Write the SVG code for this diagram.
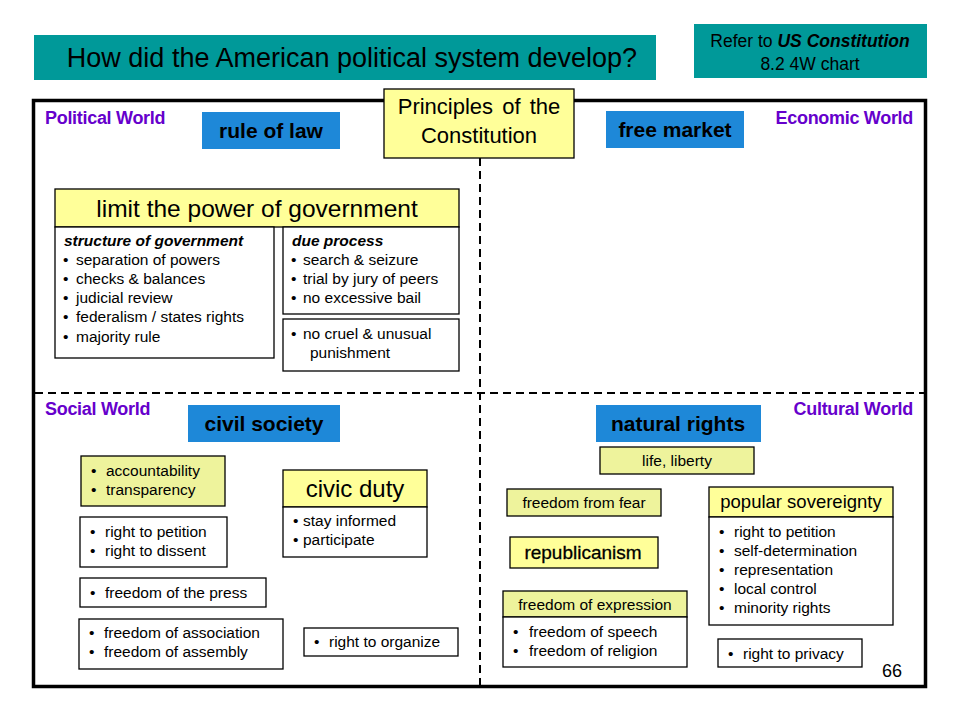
<svg xmlns="http://www.w3.org/2000/svg" width="960" height="720" viewBox="0 0 960 720">
<style>
text{font-family:"Liberation Sans",Arial,sans-serif;fill:#000}
.teal{fill:#009999}
.blue{fill:#1E88D8}
.yel{fill:#FFFF99;stroke:#000;stroke-width:1.3}
.lyel{fill:#EEF39C;stroke:#000;stroke-width:1.3}
.wbox{fill:#fff;stroke:#000;stroke-width:1.3}
.world{font-size:18px;font-weight:bold;fill:#6600CC;letter-spacing:-0.3px}
.key{font-size:21px;font-weight:bold;text-anchor:middle}
.it{font-size:15.5px}
.hd{font-size:15.5px;font-weight:bold;font-style:italic}
.c{text-anchor:middle}
</style>
<rect width="960" height="720" fill="#fff"/>
<g id="title">
<rect class="teal" x="34" y="35" width="622" height="45"/>
<text x="352" y="67" font-size="27" class="c">How did the American political system develop?</text>
</g>
<g id="refer">
<rect class="teal" x="694" y="24" width="233" height="54"/>
<text x="810" y="47" font-size="17.5" class="c">Refer to <tspan font-weight="bold" font-style="italic">US Constitution</tspan></text>
<text x="810" y="70" font-size="17.5" class="c">8.2 4W chart</text>
</g>
<g id="frame">
<rect x="33.5" y="100.5" width="892" height="586" fill="none" stroke="#000" stroke-width="3.5"/>
</g>
<g id="connectors">
<line x1="480" y1="158" x2="480" y2="685" stroke="#000" stroke-width="2" stroke-dasharray="8,5"/>
<line x1="35" y1="393" x2="924" y2="393" stroke="#000" stroke-width="2" stroke-dasharray="8,5"/>
</g>
<g id="principles">
<rect class="yel" x="384" y="89" width="190" height="69"/>
<text x="479" y="114" font-size="22" class="c" word-spacing="3">Principles of the</text>
<text x="479" y="143" font-size="22" class="c">Constitution</text>
</g>
<g id="labels">
<text class="world" x="45" y="124">Political World</text>
<text class="world" x="913" y="124" text-anchor="end">Economic World</text>
<text class="world" x="45" y="415">Social World</text>
<text class="world" x="913" y="415" text-anchor="end">Cultural World</text>
<text x="902" y="677" font-size="18" text-anchor="end">66</text>
</g>
<g id="rule-of-law">
<rect class="blue" x="202" y="112" width="138" height="37"/>
<text class="key" x="271" y="138">rule of law</text>
</g>
<g id="free-market">
<rect class="blue" x="606" y="111" width="138" height="37"/>
<text class="key" x="675" y="137">free market</text>
</g>
<g id="civil-society">
<rect class="blue" x="188" y="405" width="152" height="37"/>
<text class="key" x="264" y="431">civil society</text>
</g>
<g id="natural-rights">
<rect class="blue" x="596" y="405" width="165" height="37"/>
<text class="key" x="678" y="431">natural rights</text>
</g>
<g id="limit-power">
<rect class="yel" x="55" y="189" width="404" height="38"/>
<text x="257" y="217" font-size="24.5" class="c">limit the power of government</text>
</g>
<g id="structure">
<rect class="wbox" x="55" y="227" width="219" height="131"/>
<text class="hd" x="64" y="246">structure of government</text>
<text class="it" y="265"><tspan x="63">•</tspan><tspan x="76">separation of powers</tspan></text>
<text class="it" y="284"><tspan x="63">•</tspan><tspan x="76">checks &amp; balances</tspan></text>
<text class="it" y="303"><tspan x="63">•</tspan><tspan x="76">judicial review</tspan></text>
<text class="it" y="322"><tspan x="63">•</tspan><tspan x="76">federalism / states rights</tspan></text>
<text class="it" y="342"><tspan x="63">•</tspan><tspan x="76">majority rule</tspan></text>
</g>
<g id="due-process">
<rect class="wbox" x="283" y="227" width="176" height="87"/>
<text class="hd" x="292" y="246">due process</text>
<text class="it" y="265"><tspan x="291">•</tspan><tspan x="303">search &amp; seizure</tspan></text>
<text class="it" y="284"><tspan x="291">•</tspan><tspan x="303">trial by jury of peers</tspan></text>
<text class="it" y="303"><tspan x="291">•</tspan><tspan x="303">no excessive bail</tspan></text>
</g>
<g id="cruel">
<rect class="wbox" x="283" y="319" width="176" height="52"/>
<text class="it" y="339"><tspan x="291">•</tspan><tspan x="303">no cruel &amp; unusual</tspan></text>
<text class="it" x="310" y="358">punishment</text>
</g>
<g id="accountability">
<rect class="lyel" x="81" y="456" width="144" height="50"/>
<text class="it" y="476"><tspan x="91">•</tspan><tspan x="106">accountability</tspan></text>
<text class="it" y="495"><tspan x="91">•</tspan><tspan x="106">transparency</tspan></text>
</g>
<g id="petition">
<rect class="wbox" x="80" y="517" width="147" height="50"/>
<text class="it" y="537"><tspan x="90">•</tspan><tspan x="105">right to petition</tspan></text>
<text class="it" y="556"><tspan x="90">•</tspan><tspan x="105">right to dissent</tspan></text>
</g>
<g id="press">
<rect class="wbox" x="80" y="578" width="186" height="29"/>
<text class="it" y="598"><tspan x="90">•</tspan><tspan x="105">freedom of the press</tspan></text>
</g>
<g id="association">
<rect class="wbox" x="79" y="619" width="204" height="50"/>
<text class="it" y="638"><tspan x="89">•</tspan><tspan x="104">freedom of association</tspan></text>
<text class="it" y="657"><tspan x="89">•</tspan><tspan x="104">freedom of assembly</tspan></text>
</g>
<g id="organize">
<rect class="wbox" x="304" y="628" width="154" height="28"/>
<text class="it" y="647"><tspan x="314">•</tspan><tspan x="329">right to organize</tspan></text>
</g>
<g id="civic-duty">
<rect class="yel" x="283" y="470" width="144" height="37"/>
<text x="355" y="497" font-size="24" class="c">civic duty</text>
<rect class="wbox" x="283" y="507" width="144" height="50"/>
<text class="it" y="526"><tspan x="293">•</tspan><tspan x="303">stay informed</tspan></text>
<text class="it" y="545"><tspan x="293">•</tspan><tspan x="303">participate</tspan></text>
</g>
<g id="life-liberty">
<rect class="lyel" x="600" y="447" width="154" height="27"/>
<text class="it c" x="677" y="466">life, liberty</text>
</g>
<g id="freedom-fear">
<rect class="lyel" x="507" y="489" width="154" height="27"/>
<text class="it c" x="584" y="508">freedom from fear</text>
</g>
<g id="republicanism">
<rect class="yel" x="510" y="537" width="148" height="31"/>
<text x="583" y="559" font-size="19" class="c" stroke="#000" stroke-width="0.3">republicanism</text>
</g>
<g id="expression">
<rect class="lyel" x="503" y="591" width="184" height="26"/>
<text class="it c" x="595" y="610">freedom of expression</text>
<rect class="wbox" x="503" y="617" width="184" height="50"/>
<text class="it" y="637"><tspan x="513">•</tspan><tspan x="529">freedom of speech</tspan></text>
<text class="it" y="656"><tspan x="513">•</tspan><tspan x="529">freedom of religion</tspan></text>
</g>
<g id="popular-sovereignty">
<rect class="yel" x="709" y="487" width="184" height="30"/>
<text x="801" y="508" font-size="18.5" class="c">popular sovereignty</text>
<rect class="wbox" x="709" y="517" width="184" height="108"/>
<text class="it" y="537"><tspan x="719">•</tspan><tspan x="734">right to petition</tspan></text>
<text class="it" y="556"><tspan x="719">•</tspan><tspan x="734">self-determination</tspan></text>
<text class="it" y="575"><tspan x="719">•</tspan><tspan x="734">representation</tspan></text>
<text class="it" y="594"><tspan x="719">•</tspan><tspan x="734">local control</tspan></text>
<text class="it" y="613"><tspan x="719">•</tspan><tspan x="734">minority rights</tspan></text>
</g>
<g id="privacy">
<rect class="wbox" x="718" y="639" width="144" height="28"/>
<text class="it" y="659"><tspan x="728">•</tspan><tspan x="743">right to privacy</tspan></text>
</g>
</svg>
